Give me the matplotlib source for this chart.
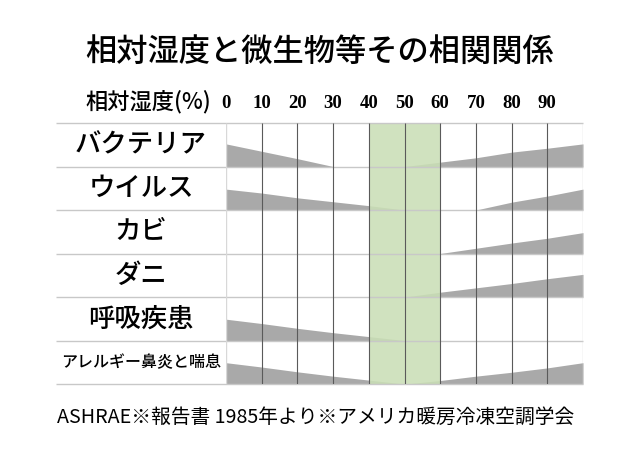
import matplotlib.pyplot as plt

plt.rcParams['font.family'] = ['Noto Sans CJK JP', 'DejaVu Sans']

# Chart data
title = '相対湿度と微生物等その相関関係'
footer = 'ASHRAE※報告書 1985年より※アメリカ暖房冷凍空調学会'
humidity_ticks = [0, 10, 20, 30, 40, 50, 60, 70, 80, 90]
categories = ['バクテリア', 'ウイルス', 'カビ', 'ダニ', '呼吸疾患', 'アレルギー鼻炎と喘息']
optimal_range = [40, 60]

# (x, height) of the gray wedges per row, heights as fraction of the row
left_x = [
    [0, 10, 20, 30],
    [0, 10, 20, 30, 40, 50],
    [],
    [],
    [0, 10, 20, 30, 40, 50],
    [0, 10, 20, 30, 40, 50],
]
left_h = [
    [0.52, 0.35, 0.18, 0.0],
    [0.48, 0.39, 0.28, 0.19, 0.10, 0.0],
    [],
    [],
    [0.49, 0.39, 0.28, 0.18, 0.09, 0.0],
    [0.49, 0.39, 0.28, 0.18, 0.09, 0.0],
]
right_x = [
    [50, 60, 70, 80, 90, 100],
    [70, 80, 90, 100],
    [60, 70, 80, 90, 100],
    [50, 60, 70, 80, 90, 100],
    [],
    [50, 60, 70, 80, 90, 100],
]
right_h = [
    [0.0, 0.10, 0.20, 0.33, 0.42, 0.52],
    [0.0, 0.18, 0.32, 0.48],
    [0.0, 0.12, 0.24, 0.35, 0.48],
    [0.0, 0.11, 0.21, 0.31, 0.42, 0.52],
    [],
    [0.0, 0.08, 0.18, 0.27, 0.37, 0.49],
]

fig = plt.figure(figsize=(6.4, 4.7), dpi=100)
ax = fig.add_axes([226 / 640, 1 - 384 / 470, 357 / 640, 261 / 470])
ax.set_xlim(0, 100)
ax.set_ylim(len(categories), 0)
for s in ax.spines.values():
    s.set_visible(False)
ax.set_yticks([])

# wedges
for i in range(len(categories)):
    base = i + 1
    if left_x[i]:
        ax.fill_between(left_x[i], base, [base - h for h in left_h[i]],
                        color='#a9a9a9', lw=0, zorder=1)
    if right_x[i]:
        ax.fill_between(right_x[i], base, [base - h for h in right_h[i]],
                        color='#a9a9a9', lw=0, zorder=1)

# comfortable humidity band
ax.axvspan(optimal_range[0], optimal_range[1], color='#cadfb6', alpha=0.88, lw=0, zorder=2)

# grid
label_left = -47.6
ax.hlines(range(len(categories) + 1), label_left, 100, color='#c8c8c8', lw=1, clip_on=False, zorder=3)
ax.vlines(humidity_ticks[1:], 0, len(categories), color='#5a5a5a', lw=0.8, zorder=4)
ax.vlines([0, 100], 0, len(categories), color='#d8d8d8', lw=1, zorder=4)

# row labels
for i, name in enumerate(categories):
    size = 11.5 if len(name) > 6 else 19
    ax.text(label_left / 2, i + 0.5, name, ha='center', va='center', fontsize=size,
            fontweight='medium')

# x ticks at top
ax.xaxis.tick_top()
ax.set_xticks(humidity_ticks)
ax.set_xticklabels([str(t) for t in humidity_ticks], family='Liberation Serif',
                   fontweight='bold', fontsize=13.5)
ax.tick_params(axis='x', length=0, pad=8)
ax.text(-4, -0.5, '相対湿度(%)', ha='right', va='center', fontsize=16,
        fontweight='medium', clip_on=False)

fig.text(0.5, 1 - 52 / 470, title, ha='center', va='center', fontsize=22.5, fontweight='medium')
fig.text(57 / 640, 1 - 417 / 470, footer, ha='left', va='center', fontsize=14.2)

fig.savefig('out.png', dpi=100)
